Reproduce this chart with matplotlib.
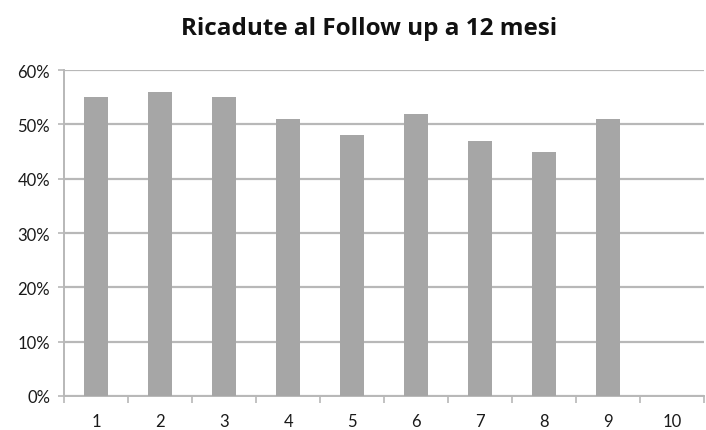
import matplotlib
matplotlib.use("Agg")
import matplotlib.pyplot as plt
import numpy as np
from matplotlib.ticker import FixedLocator, PercentFormatter

categories = ["1", "2", "3", "4", "5", "6", "7", "8", "9", "10"]
values = [55, 56, 55, 51, 48, 52, 47, 45, 51, np.nan]
yticks = [0, 10, 20, 30, 40, 50, 60]

plt.rcParams['font.family'] = ['Lato', 'DejaVu Sans']

fig = plt.figure(figsize=(7.06, 4.31), dpi=100)
ax = fig.add_axes([0.0907, 0.079, 0.907, 0.756])

x = np.arange(len(categories))
v = np.array(values, dtype=float)
mask = ~np.isnan(v)
ax.bar(x[mask], v[mask], width=0.37, color="#a6a6a6", zorder=3)

ax.set_xlim(-0.5, len(categories) - 0.5)
ax.set_ylim(0, 60)
ax.set_yticks(yticks)
ax.yaxis.set_major_formatter(PercentFormatter(decimals=0))
ax.grid(axis="y", color="#b8b8b8", linewidth=1.6, zorder=0)

ax.set_xticks(x)
ax.set_xticklabels(categories)
ax.xaxis.set_minor_locator(FixedLocator(np.arange(-0.5, len(categories), 1.0)))
ax.tick_params(axis="x", which="major", length=0, pad=12, labelsize=12, labelcolor="#1a1a1a")
ax.tick_params(axis="x", which="minor", length=5, width=1.2, color="#b8b8b8")
ax.tick_params(axis="y", which="major", length=4, width=1.2, color="#b8b8b8", pad=6, labelsize=12, labelcolor="#1a1a1a")

for s in ["top", "right"]:
    ax.spines[s].set_visible(False)
for s in ["left", "bottom"]:
    ax.spines[s].set_color("#b8b8b8")
    ax.spines[s].set_linewidth(1.4)

fig.text(0.523, 0.933, "Ricadute al Follow up a 12 mesi", ha="center", va="center",
         fontsize=17.5, fontweight="bold", color="#111111", family=["Open Sans", "DejaVu Sans"])

fig.savefig("out.png", dpi=100)
